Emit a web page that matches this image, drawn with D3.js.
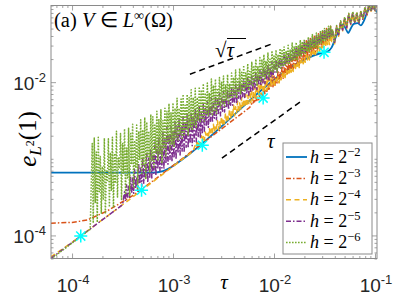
<!DOCTYPE html>
<html>
<head>
<meta charset="utf-8">
<script src="https://cdn.jsdelivr.net/npm/d3@7"></script>
<style>
  body { margin: 0; background: #fff; }
  svg { display: block; }
</style>
</head>
<body>
<div id="chart"></div>
<script>
// ---- data (log10 values) ----
// tau grid for the oscillating parts, log10(tau)
const logTau = [
  -3.80,-3.79,-3.78,-3.77,-3.76,-3.75,-3.74,-3.73,-3.72,-3.71,
  -3.70,-3.69,-3.68,-3.67,-3.66,-3.65,-3.64,-3.63,-3.62,-3.61,
  -3.60,-3.59,-3.58,-3.57,-3.56,-3.55,-3.54,-3.53,-3.52,-3.51,
  -3.50,-3.49,-3.48,-3.47,-3.46,-3.45,-3.44,-3.43,-3.42,-3.41,
  -3.40,-3.39,-3.38,-3.37,-3.36,-3.35,-3.34,-3.33,-3.32,-3.31,
  -3.30,-3.29,-3.28,-3.27,-3.26,-3.25,-3.24,-3.23,-3.22,-3.21,
  -3.20,-3.19,-3.18,-3.17,-3.16,-3.15,-3.14,-3.13,-3.12,-3.11,
  -3.10,-3.09,-3.08,-3.07,-3.06,-3.05,-3.04,-3.03,-3.02,-3.01,
  -3.00,-2.99,-2.98,-2.97,-2.96,-2.95,-2.94,-2.93,-2.92,-2.91,
  -2.90,-2.89,-2.88,-2.87,-2.86,-2.85,-2.84,-2.83,-2.82,-2.81,
  -2.80,-2.79,-2.78,-2.77,-2.76,-2.75,-2.74,-2.73,-2.72,-2.71,
  -2.70,-2.69,-2.68,-2.67,-2.66,-2.65,-2.64,-2.63,-2.62,-2.61,
  -2.60,-2.59,-2.58,-2.57,-2.56,-2.55,-2.54,-2.53,-2.52,-2.51,
  -2.50,-2.49,-2.48,-2.47,-2.46,-2.45,-2.44,-2.43,-2.42,-2.41,
  -2.40,-2.39,-2.38,-2.37,-2.36,-2.35,-2.34,-2.33,-2.32,-2.31,
  -2.30,-2.29,-2.28,-2.27,-2.26,-2.25,-2.24,-2.23,-2.22,-2.21,
  -2.20,-2.19,-2.18,-2.17,-2.16,-2.15,-2.14,-2.13,-2.12,-2.11,
  -2.10,-2.09,-2.08,-2.07,-2.06,-2.05,-2.04,-2.03,-2.02,-2.01,
  -2.00,-1.99,-1.98,-1.97,-1.96,-1.95,-1.94,-1.93,-1.92,-1.91,
  -1.90,-1.89,-1.88,-1.87,-1.86,-1.85,-1.84,-1.83,-1.82,-1.81,
  -1.80,-1.79,-1.78,-1.77,-1.76,-1.75,-1.74,-1.73,-1.72,-1.71,
  -1.70,-1.69,-1.68,-1.67,-1.66,-1.65,-1.64,-1.63,-1.62,-1.61,
  -1.60,-1.59,-1.58,-1.57,-1.56,-1.55,-1.54,-1.53,-1.52,-1.51,
  -1.50,-1.49,-1.48,-1.47,-1.46,-1.45,-1.44,-1.43,
  -1.42,-1.40,-1.38,-1.36,-1.34,-1.32,-1.30,-1.28,-1.26,-1.24,
  -1.22,-1.20,-1.18,-1.16,-1.14,-1.12,-1.10,-1.08,-1.06,-1.04,
  -1.02,-1.00,-0.98
];

// h = 2^-2 (smooth, no grid part)
const blueLogTau = [-4.21,-3.20,-3.10,-3.02,-2.94,-2.85,-1.505,-1.47,-1.43,-1.39,-1.35,-1.32,-1.29,-1.265,-1.24,-1.21,-1.17,-1.14,-1.11,-1.08,-1.05,-1.01,-0.98];
const blueLogErr = [-3.18,-3.18,-3.16,-3.11,-3.04,-2.95,-1.61,-1.60,-1.55,-1.42,-1.30,-1.25,-1.30,-1.36,-1.30,-1.24,-1.23,-1.26,-1.20,-1.10,-1.03,-1.04,-1.09];

// h = 2^-3
const orangeLogTau = [-4.21,-4.00,-3.85,-3.75,-3.65,-3.55,-3.40,-3.20,-3.00,-2.50,-2.24];
const orangeLogErr = [-3.84,-3.83,-3.80,-3.74,-3.68,-3.60,-3.48,-3.29,-3.09,-2.59,-2.33];
const orangeStart = 158;
const orangeOsc = [
  -2.28,-2.29,
  -2.24,-2.27,-2.20,-2.24,-2.21,-2.23,-2.15,-2.20,-2.15,-2.18,
  -2.09,-2.15,-2.09,-2.12,-2.02,-2.11,-2.02,-2.07,-1.96,-2.06,
  -1.92,-2.04,-1.93,-2.01,-1.85,-2.00,-1.87,-1.96,-1.79,-1.95,
  -1.80,-1.92,-1.72,-1.91,-1.74,-1.87,-1.66,-1.86,-1.68,-1.83,
  -1.60,-1.81,-1.62,-1.78,-1.55,-1.78,-1.57,-1.74,-1.50,-1.73,
  -1.52,-1.70,-1.46,-1.69,-1.47,-1.65,-1.43,-1.65,-1.45,-1.62,
  -1.40,-1.60,-1.41,-1.57,-1.37,-1.57,-1.38,-1.54,-1.34,-1.51,
  -1.34,-1.50,-1.30,-1.47,-1.31,-1.46,-1.27,-1.43,
  -1.33,-1.47,-1.27,-1.37,-1.21,-1.31,-1.16,-1.28,-1.11,-1.23,
  -1.09,-1.21,-1.10,-1.22,-1.08,-1.17,-1.03,-1.11,-0.99,-1.07,
  -0.97,-1.05,-0.98
];

// h = 2^-4
const yellowLogTau = [-4.21,-4.00,-3.50,-3.00,-2.80];
const yellowLogErr = [-4.28,-4.09,-3.60,-3.10,-2.90];
const yellowStart = 102;
const yellowOsc = [
  -2.82,-2.85,-2.76,-2.82,-2.76,-2.81,-2.70,-2.77,
  -2.70,-2.76,-2.65,-2.72,-2.67,-2.73,-2.60,-2.69,-2.61,-2.66,
  -2.55,-2.65,-2.57,-2.61,-2.50,-2.62,-2.52,-2.58,-2.45,-2.57,
  -2.47,-2.54,-2.40,-2.53,-2.42,-2.49,-2.35,-2.48,-2.37,-2.45,
  -2.30,-2.44,-2.32,-2.40,-2.25,-2.40,-2.27,-2.37,-2.20,-2.34,
  -2.22,-2.33,-2.16,-2.32,-2.17,-2.28,-2.11,-2.27,-2.12,-2.24,
  -2.06,-2.22,-2.07,-2.21,-2.01,-2.17,-2.02,-2.17,-1.96,-2.14,
  -1.97,-2.11,-1.91,-2.11,-1.92,-2.07,-1.86,-2.06,-1.87,-2.03,
  -1.96,-2.04,-1.96,-2.01,-1.93,-2.01,-1.93,-1.97,-1.88,-1.96,
  -1.88,-1.94,-1.84,-1.91,-1.85,-1.91,-1.81,-1.87,-1.80,-1.86,
  -1.77,-1.84,-1.77,-1.81,-1.72,-1.81,-1.72,-1.77,-1.69,-1.76,
  -1.68,-1.74,-1.64,-1.71,-1.65,-1.71,-1.61,-1.67,-1.60,-1.66,
  -1.57,-1.64,-1.57,-1.61,-1.52,-1.61,-1.52,-1.57,-1.49,-1.56,
  -1.48,-1.54,-1.44,-1.51,-1.45,-1.51,-1.41,-1.47,
  -1.36,-1.50,-1.30,-1.40,-1.23,-1.33,-1.18,-1.30,-1.14,-1.25,
  -1.12,-1.24,-1.13,-1.24,-1.10,-1.19,-1.05,-1.13,-1.01,-1.09,
  -0.99,-1.07,-1.00
];

// h = 2^-5
const purpleLogTau = [-4.21,-3.50];
const purpleLogErr = [-4.30,-3.60];
const purpleStart = 32;
const purpleOsc = [
  -3.43,-3.55,-3.34,-3.50,-3.36,-3.50,-3.24,-3.45,
  -3.25,-3.45,-3.14,-3.39,-3.24,-3.42,-3.06,-3.33,-3.12,-3.36,
  -2.98,-3.32,-3.08,-3.25,-2.91,-3.31,-2.99,-3.24,-2.88,-3.25,
  -2.92,-3.19,-2.78,-3.22,-2.84,-3.13,-2.72,-3.16,-2.82,-3.12,
  -2.65,-3.13,-2.74,-3.06,-2.59,-3.07,-2.68,-3.01,-2.58,-3.04,
  -2.65,-2.99,-2.52,-3.01,-2.58,-2.93,-2.49,-2.95,-2.58,-2.90,
  -2.45,-2.92,-2.52,-2.85,-2.42,-2.86,-2.49,-2.80,-2.39,-2.83,
  -2.46,-2.77,-2.34,-2.78,-2.40,-2.71,-2.32,-2.73,-2.39,-2.68,
  -2.28,-2.64,-2.34,-2.57,-2.26,-2.59,-2.32,-2.51,-2.21,-2.53,
  -2.28,-2.47,-2.18,-2.49,-2.23,-2.41,-2.15,-2.44,-2.21,-2.38,
  -2.12,-2.39,-2.18,-2.33,-2.09,-2.36,-2.15,-2.30,-2.06,-2.30,
  -2.10,-2.26,-2.03,-2.28,-2.08,-2.21,-2.00,-2.23,-2.03,-2.19,
  -1.97,-2.20,-2.01,-2.15,-1.94,-2.17,-1.98,-2.12,-1.91,-2.12,
  -1.94,-2.09,-1.87,-2.10,-1.91,-2.04,-1.84,-2.05,-1.86,-2.01,
  -1.80,-2.02,-1.84,-1.97,-1.77,-1.99,-1.81,-1.94,-1.74,-1.94,
  -1.77,-1.87,-1.71,-1.87,-1.74,-1.82,-1.68,-1.82,-1.69,-1.79,
  -1.64,-1.78,-1.67,-1.75,-1.61,-1.75,-1.64,-1.71,-1.58,-1.70,
  -1.60,-1.69,-1.54,-1.66,-1.57,-1.66,-1.51,-1.63,-1.52,-1.62,
  -1.48,-1.61,-1.50,-1.58,-1.45,-1.57,-1.47,-1.55,-1.42,-1.54,
  -1.44,-1.52,-1.39,-1.51,-1.41,-1.48,-1.36,-1.47,-1.36,-1.45,
  -1.33,-1.44,-1.34,-1.42,-1.30,-1.41,-1.29,-1.39,
  -1.34,-1.48,-1.28,-1.38,-1.22,-1.32,-1.17,-1.29,-1.12,-1.24,
  -1.10,-1.22,-1.11,-1.23,-1.09,-1.18,-1.04,-1.12,-1.00,-1.08,
  -0.98,-1.06,-0.99
];

// h = 2^-6
const greenLogTau = [-4.21,-3.82];
const greenLogErr = [-4.31,-3.92];
const greenStart = 0;
const greenOsc = [
  -2.80,-3.84,-2.73,-3.57,-2.91,-3.83,-2.72,-3.43,-2.97,-3.71,
  -3.10,-3.54,-2.73,-3.72,-3.16,-3.30,-2.74,-3.63,-2.92,-3.41,
  -2.72,-3.64,-2.93,-3.32,-2.64,-3.50,-2.99,-3.13,-2.67,-3.53,
  -2.80,-3.19,-2.61,-3.47,-2.86,-3.25,-2.60,-3.48,-2.67,-3.06,
  -2.55,-3.37,-2.76,-3.12,-2.56,-3.39,-2.64,-3.01,-2.49,-3.21,
  -2.62,-3.09,-2.46,-3.27,-2.52,-2.97,-2.64,-3.18,-2.42,-3.03,
  -2.45,-3.11,-2.56,-2.92,-2.38,-3.03,-2.48,-2.93,-2.36,-3.06,
  -2.50,-2.87,-2.34,-2.97,-2.38,-2.79,-2.28,-2.88,-2.40,-2.81,
  -2.27,-2.85,-2.34,-2.74,-2.21,-2.77,-2.34,-2.68,-2.22,-2.75,
  -2.16,-2.69,-2.30,-2.63,-2.16,-2.70,-2.20,-2.60,-2.10,-2.63,
  -2.20,-2.56,-2.08,-2.60,-2.20,-2.50,-2.06,-2.53,-2.10,-2.47,
  -2.02,-2.51,-2.14,-2.42,-2.01,-2.45,-2.14,-2.40,-1.96,-2.44,
  -2.04,-2.37,-1.96,-2.41,-2.08,-2.31,-1.94,-2.34,-2.00,-2.28,
  -1.92,-2.31,-2.03,-2.24,-1.90,-2.28,-2.02,-2.21,-1.88,-2.21,
  -1.94,-2.18,-1.84,-2.21,-1.96,-2.13,-1.82,-2.15,-1.87,-2.11,
  -1.78,-2.13,-1.88,-2.07,-1.76,-2.11,-1.86,-2.04,-1.74,-2.06,
  -1.80,-2.01,-1.70,-2.05,-1.80,-1.98,-1.68,-1.99,-1.70,-1.93,
  -1.64,-1.96,-1.73,-1.90,-1.62,-1.93,-1.70,-1.87,-1.59,-1.87,
  -1.66,-1.84,-1.58,-1.87,-1.64,-1.81,-1.56,-1.82,-1.57,-1.78,
  -1.54,-1.79,-1.60,-1.75,-1.52,-1.77,-1.58,-1.72,-1.49,-1.72,
  -1.54,-1.71,-1.48,-1.72,-1.52,-1.66,-1.45,-1.67,-1.47,-1.63,
  -1.44,-1.64,-1.48,-1.60,-1.41,-1.61,-1.45,-1.57,-1.38,-1.56,
  -1.42,-1.55,-1.36,-1.55,-1.39,-1.50,-1.33,-1.50,-1.33,-1.47,
  -1.30,-1.47,-1.32,-1.43,-1.27,-1.44,-1.27,-1.40,
  -1.32,-1.46,-1.26,-1.36,-1.20,-1.30,-1.15,-1.27,-1.10,-1.22,
  -1.08,-1.20,-1.09,-1.21,-1.07,-1.16,-1.02,-1.10,-0.98,-1.06,
  -0.96,-1.04,-0.97
];

// cyan asterisks, tau = h^2/2
const markerTau = [1.22e-4, 4.88e-4, 1.95e-3, 7.81e-3, 3.13e-2];
const markerErr = [9.8e-5, 3.9e-4, 1.5e-3, 6.2e-3, 2.45e-2];

// slope guides
const sqrtGuideTau = [1.47e-3, 9.5e-3];
const sqrtGuideErr = [1.27e-2, 3.15e-2];
const linGuideTau = [3.05e-3, 1.81e-2];
const linGuideErr = [1.02e-3, 5.5e-3];

const legendExp = ["2", "3", "4", "5", "6"];
const xTickExp = [-4, -3, -2, -1];
const yTickExp = [-4, -2];

// ---- layout ----
const W = 395, H = 296;
const plot = { left: 51, right: 377, top: 5.5, bottom: 258.5 };
const serif = "'Liberation Serif', 'Times New Roman', serif";
const sans = "'Liberation Sans', Arial, Helvetica, sans-serif";
const axisColor = "#8a8a8a";

const x = d3.scaleLog().domain([6.19e-5, 0.1047]).range([plot.left, plot.right]);
const y = d3.scaleLog().domain([5e-5, 0.1]).range([plot.bottom, plot.top]);

const svg = d3.select("#chart").append("svg")
  .attr("width", W).attr("height", H)
  .attr("viewBox", `0 0 ${W} ${H}`);

svg.append("defs").append("clipPath").attr("id", "clip")
  .append("rect")
  .attr("x", plot.left).attr("y", plot.top)
  .attr("width", plot.right - plot.left).attr("height", plot.bottom - plot.top);

function build(headT, headE, osc, start) {
  const pts = headT.map((t, i) => [Math.pow(10, t), Math.pow(10, headE[i])]);
  (osc || []).forEach((v, j) => pts.push([Math.pow(10, logTau[start + j]), Math.pow(10, v)]));
  return pts;
}

const series = [
  { pts: build(blueLogTau, blueLogErr), color: "#0072BD", dash: null, width: 1.8, curve: d3.curveMonotoneX },
  { pts: build(orangeLogTau, orangeLogErr, orangeOsc, orangeStart), color: "#D95319", dash: "5,2,1.5,2", width: 1.5 },
  { pts: build(yellowLogTau, yellowLogErr, yellowOsc, yellowStart), color: "#EDB120", dash: "5,3.5", width: 1.5 },
  { pts: build(purpleLogTau, purpleLogErr, purpleOsc, purpleStart), color: "#7E2F8E", dash: "5,2,1.5,2", width: 1.5 },
  { pts: build(greenLogTau, greenLogErr, greenOsc, greenStart), color: "#77AC30", dash: "1.6,1.4", width: 1.5 }
];

const plotG = svg.append("g").attr("clip-path", "url(#clip)");

series.forEach(s => {
  const line = d3.line().x(d => x(d[0])).y(d => y(d[1])).curve(s.curve || d3.curveLinear);
  plotG.append("path")
    .datum(s.pts)
    .attr("d", line)
    .attr("fill", "none")
    .attr("stroke", s.color)
    .attr("stroke-width", s.width)
    .attr("stroke-dasharray", s.dash)
    .attr("stroke-linejoin", "round");
});

// asterisk markers
const r = 6.5;
const star = `M${-r},0L${r},0M0,${-r}L0,${r}M${-r * 0.7},${-r * 0.7}L${r * 0.7},${r * 0.7}M${-r * 0.7},${r * 0.7}L${r * 0.7},${-r * 0.7}`;
plotG.selectAll(".mk").data(markerTau).enter().append("path")
  .attr("transform", (d, i) => `translate(${x(d)},${y(markerErr[i])})`)
  .attr("d", star)
  .attr("stroke", "#00FFFF").attr("stroke-width", 1.5).attr("fill", "none");

// slope guides
[[sqrtGuideTau, sqrtGuideErr], [linGuideTau, linGuideErr]].forEach(([t, e]) => {
  svg.append("line")
    .attr("x1", x(t[0])).attr("y1", y(e[0]))
    .attr("x2", x(t[1])).attr("y2", y(e[1]))
    .attr("stroke", "#000").attr("stroke-width", 1.5)
    .attr("stroke-dasharray", "6,4");
});

const sq = svg.append("text").attr("x", 215).attr("y", 57)
  .style("font-family", serif).style("font-size", "21px");
sq.append("tspan").text("\u221A");
sq.append("tspan").style("font-style", "italic").text("\u03C4");
svg.append("line").attr("x1", 227).attr("x2", 246).attr("y1", 38.5).attr("y2", 38.5)
  .attr("stroke", "#000").attr("stroke-width", 1);

svg.append("text").attr("x", 267).attr("y", 148)
  .style("font-family", serif).style("font-size", "21px").style("font-style", "italic")
  .text("\u03C4");

// ---- axes box and ticks ----
svg.append("rect")
  .attr("x", plot.left).attr("y", plot.top)
  .attr("width", plot.right - plot.left).attr("height", plot.bottom - plot.top)
  .attr("fill", "none").attr("stroke", axisColor).attr("stroke-width", 1);

const isPow10 = v => Math.abs(Math.log10(v) - Math.round(Math.log10(v))) < 1e-9;
const xAll = x.ticks();
const yAll = y.ticks();
const xMajor = xAll.filter(isPow10);
const xMinor = xAll.filter(v => !isPow10(v));
const yMajor = yTickExp.map(e => Math.pow(10, e));
const yMinor = yAll.filter(v => !yMajor.some(m => Math.abs(m - v) / m < 1e-9));

function tickAxis(axisGen, scale, values, size, transform) {
  svg.append("g")
    .attr("transform", transform)
    .call(axisGen(scale).tickValues(values).tickSize(-size).tickFormat(""))
    .call(g => g.select(".domain").remove())
    .call(g => g.selectAll("line").attr("stroke", axisColor).attr("stroke-width", 0.8));
}
tickAxis(d3.axisBottom, x, xMinor, 2.5, `translate(0,${plot.bottom})`);
tickAxis(d3.axisBottom, x, xMajor, 5, `translate(0,${plot.bottom})`);
tickAxis(d3.axisTop, x, xMinor, 2.5, `translate(0,${plot.top})`);
tickAxis(d3.axisTop, x, xMajor, 5, `translate(0,${plot.top})`);
tickAxis(d3.axisLeft, y, yMinor, 2.5, `translate(${plot.left},0)`);
tickAxis(d3.axisLeft, y, yMajor, 5, `translate(${plot.left},0)`);
tickAxis(d3.axisRight, y, yMinor, 2.5, `translate(${plot.right},0)`);
tickAxis(d3.axisRight, y, yMajor, 5, `translate(${plot.right},0)`);

// tick labels
function powLabel(sel, exp) {
  sel.append("tspan").text("10");
  sel.append("tspan").attr("dy", -8).style("font-size", "13px").text(String(exp));
}
xTickExp.forEach(e => {
  svg.append("text")
    .attr("x", x(Math.pow(10, e)) + 1).attr("y", 292)
    .attr("text-anchor", "middle")
    .style("font-family", sans).style("font-size", "19px").attr("fill", "#262626")
    .call(powLabel, e);
});
yTickExp.forEach(e => {
  svg.append("text")
    .attr("x", 46).attr("y", y(Math.pow(10, e)) + 8)
    .attr("text-anchor", "end")
    .style("font-family", sans).style("font-size", "19px").attr("fill", "#262626")
    .call(powLabel, e);
});

// axis labels
svg.append("text").attr("x", 224).attr("y", 289)
  .attr("text-anchor", "middle")
  .style("font-family", serif).style("font-size", "21px").style("font-style", "italic")
  .text("\u03C4");

const yl = svg.append("text")
  .attr("transform", "translate(36,139) rotate(-90)")
  .attr("text-anchor", "middle")
  .style("font-family", serif).style("font-size", "25px");
yl.append("tspan").style("font-style", "italic").text("e");
yl.append("tspan").attr("dy", 5).style("font-size", "17px").style("font-style", "italic").text("L");
yl.append("tspan").attr("dy", -7).style("font-size", "12px").text("2");
yl.append("tspan").attr("dy", 2).text("(1)");

// panel title
const tt = svg.append("text").attr("x", 54).attr("y", 27)
  .style("font-family", serif).style("font-size", "20.5px");
tt.append("tspan").text("(a) ");
tt.append("tspan").style("font-style", "italic").text("V");
tt.append("tspan").text(" \u2208 ");
tt.append("tspan").style("font-style", "italic").text("L");
tt.append("tspan").attr("dy", -7).style("font-size", "14px").text("\u221E");
tt.append("tspan").attr("dy", 7).text("(\u03A9)");

// ---- legend ----
const lg = { x: 283, y: 143, w: 89, h: 111, row0: 157, step: 21.4 };
svg.append("rect")
  .attr("x", lg.x).attr("y", lg.y).attr("width", lg.w).attr("height", lg.h)
  .attr("fill", "#fff").attr("stroke", axisColor).attr("stroke-width", 1);

series.forEach((s, i) => {
  const ry = lg.row0 + i * lg.step;
  svg.append("line")
    .attr("x1", lg.x + 3).attr("x2", lg.x + 24).attr("y1", ry).attr("y2", ry)
    .attr("stroke", s.color).attr("stroke-width", s.width)
    .attr("stroke-dasharray", s.dash);
  const t = svg.append("text").attr("x", lg.x + 27).attr("y", ry + 5.5)
    .style("font-family", serif).style("font-size", "18px").attr("fill", "#000");
  t.append("tspan").style("font-style", "italic").text("h");
  t.append("tspan").text(" = 2");
  t.append("tspan").attr("dy", -7).style("font-size", "12.5px").text("\u2212" + legendExp[i]);
});
</script>
</body>
</html>
